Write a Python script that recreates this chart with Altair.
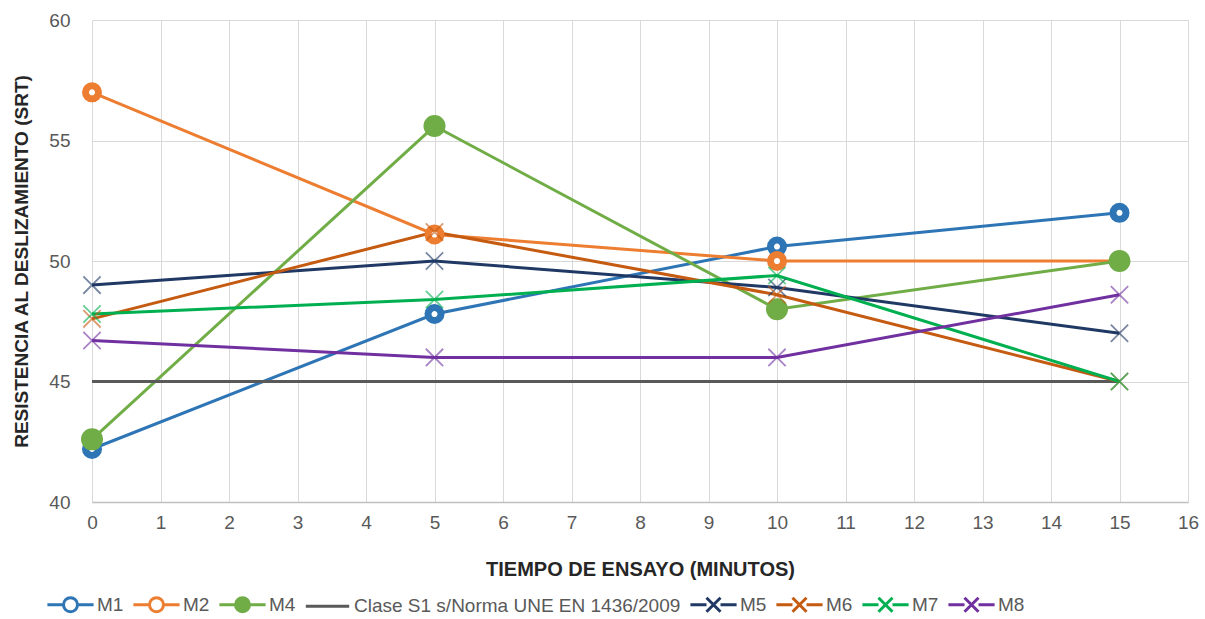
import altair as alt
import pandas as pd

# ---- data ----
tiempo = [0, 5, 10, 15]
series_names = ["M1", "M2", "M4", "Clase S1 s/Norma UNE EN 1436/2009", "M5", "M6", "M7", "M8"]
M1 = [42.2, 47.8, 50.6, 52.0]
M2 = [57.0, 51.1, 50.0, 50.0]
M4 = [42.6, 55.6, 48.0, 50.0]
CLASE = [45.0, 45.0, 45.0, 45.0]
M5 = [49.0, 50.0, 48.9, 47.0]
M6 = [47.6, 51.2, 48.6, 45.0]
M7 = [47.8, 48.4, 49.4, 45.0]
M8 = [46.7, 46.0, 46.0, 48.6]
values = [M1, M2, M4, CLASE, M5, M6, M7, M8]

line_colors = ["#2E75B6", "#ED7D31", "#70AD47", "#595959", "#1F3864", "#C55A11", "#00B050", "#7030A0"]
fill_colors = ["white", "white", "#70AD47", "transparent", "transparent", "transparent", "transparent", "transparent"]

rows = []
for name, vals in zip(series_names, values):
    for t, v in zip(tiempo, vals):
        rows.append({"series": name, "x": t, "y": v})
df = pd.DataFrame(rows)

FONT = "Liberation Sans, Arial, sans-serif"

X_PATH = "M-1,-1L1,1M-1,1L1,-1"
CIRC = "M-1,0A1,1,0,1,1,1,0A1,1,0,1,1,-1,0Z"
L = "M-3.3,0L-1,0M1,0L3.3,0"
XS = "M-1,-1L1,1M-1,1L1,-1"
leg_paths = [L + CIRC, L + CIRC, L + CIRC, "M-3.1,0L3.1,0", L + XS, L + XS, L + XS, L + XS]

color_scale = alt.Scale(domain=series_names, range=line_colors)
stroke_scale = alt.Scale(domain=series_names, range=line_colors)
fill_scale = alt.Scale(domain=series_names, range=fill_colors)
shape_scale = alt.Scale(domain=series_names, range=leg_paths)

x_enc = alt.X("x:Q", scale=alt.Scale(domain=[0, 16], nice=False),
              axis=alt.Axis(values=list(range(17)), format="d", title="TIEMPO DE ENSAYO (MINUTOS)",
                            grid=True, gridColor="#D9D9D9", gridWidth=1, labelFlush=False,
                            domainColor="#BFBFBF", domainWidth=1.5, ticks=False,
                            labelFont=FONT, labelFontSize=19, labelColor="#595959", labelPadding=11,
                            titleFont=FONT, titleFontSize=20, titleFontWeight="bold",
                            titleColor="#262626", titlePadding=27))
y_enc = alt.Y("y:Q", scale=alt.Scale(domain=[40, 60], nice=False, zero=False),
              axis=alt.Axis(values=[40, 45, 50, 55, 60], title="RESISTENCIA AL DESLIZAMIENTO (SRT)",
                            grid=True, gridColor="#D9D9D9", gridWidth=1, labelFlush=False,
                            domain=False, ticks=False,
                            labelFont=FONT, labelFontSize=19, labelColor="#595959", labelPadding=22,
                            titleFont=FONT, titleFontSize=19, titleFontWeight="bold",
                            titleColor="#262626", titlePadding=17))

base = alt.Chart(df)

leg = alt.Legend(title=None, orient="none", direction="horizontal", columns=8,
                 legendX=-48, legendY=575,
                 labelFont=FONT, labelFontSize=19, labelColor="#595959", labelLimit=600,
                 symbolSize=196, symbolStrokeWidth=3, labelOffset=17, columnPadding=3,
                 symbolOffset=17)

legend_layer = base.transform_filter("false").mark_point(size=196, strokeWidth=3, opacity=1).encode(
    x=x_enc, y=y_enc,
    stroke=alt.Stroke("series:N", scale=stroke_scale, legend=leg),
    fill=alt.Fill("series:N", scale=fill_scale, legend=leg),
    shape=alt.Shape("series:N", scale=shape_scale, legend=leg),
)

lines = base.mark_line(strokeWidth=3).encode(
    x="x:Q", y="y:Q",
    color=alt.Color("series:N", scale=color_scale, legend=None),
    detail="series:N",
)

circles = base.transform_filter(
    alt.FieldOneOfPredicate(field="series", oneOf=["M1", "M2"])
).mark_point(shape="circle", size=170, strokeWidth=7, filled=False, opacity=1).encode(
    x="x:Q", y="y:Q",
    stroke=alt.Stroke("series:N", scale=stroke_scale),
    fill=alt.Fill("series:N", scale=fill_scale),
)

circles_m4 = base.transform_filter(
    alt.FieldEqualPredicate(field="series", equal="M4")
).mark_point(shape="circle", size=170, strokeWidth=9, filled=False, opacity=1).encode(
    x="x:Q", y="y:Q",
    stroke=alt.Stroke("series:N", scale=stroke_scale),
    fill=alt.Fill("series:N", scale=fill_scale),
)

crosses = base.transform_filter(
    alt.FieldOneOfPredicate(field="series", oneOf=["M5", "M6", "M7", "M8"])
).mark_point(shape=X_PATH, size=300, strokeWidth=1.8, filled=False, opacity=0.6).encode(
    x="x:Q", y="y:Q",
    stroke=alt.Stroke("series:N", scale=stroke_scale),
)

chart = alt.layer(legend_layer, lines, circles, circles_m4, crosses).properties(
    width=1096, height=482,
    padding={"left": 92, "top": 20, "right": 17, "bottom": 117},
    autosize=alt.AutoSizeParams(type="none"),
    background="white",
).configure_view(stroke=None)

chart.save("out.html", embed_options={"renderer": "svg", "actions": False})
